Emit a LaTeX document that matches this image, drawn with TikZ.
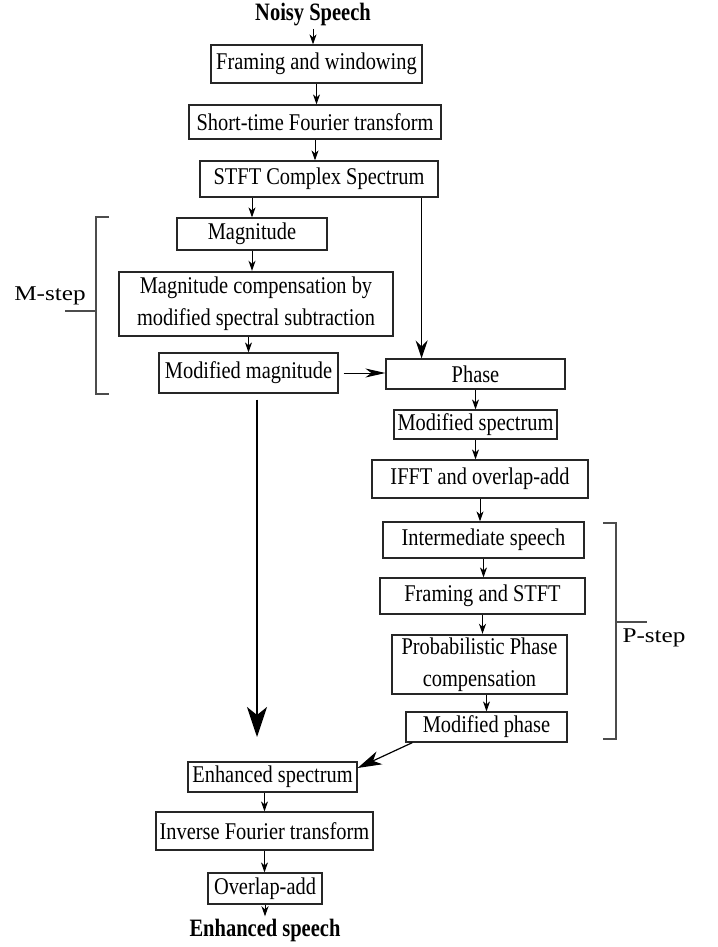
\documentclass[tikz,border=0pt]{standalone}
\usepackage{fontspec}
\setmainfont{Liberation Serif}
\newfontfamily\boxfont{Liberation Serif}[FakeStretch=0.85]
\newfontfamily\titlefont{Liberation Serif}[FakeStretch=0.82]
\newfontfamily\stepfont{Liberation Serif}[FakeStretch=1.2]
\usepackage{tikz}
\usetikzlibrary{calc}
\usetikzlibrary{arrows.meta}
\tikzset{>=Stealth}
\tikzstyle{blk} = [draw = black!85, rectangle, inner sep = 0, line width = 0.6pt, align = center, font = \boxfont\fontsize{12}{16}\selectfont]
\tikzstyle{thickblk} = [blk, line width = 1.2pt]
\tikzstyle{ttl} = [draw = none, inner sep = 1, font = \titlefont\bfseries\fontsize{12.5}{14}\selectfont]
\tikzstyle{steplbl} = [draw = none, inner sep = 0, font = \stepfont\fontsize{10.5}{12}\selectfont]
\tikzstyle{arr} = [-{Stealth[length = 5pt, width = 3.5pt, inset = 1.5pt]}, line width = 0.5pt]
\tikzstyle{brk} = [draw = black!70, line width = 0.6pt]
\tikzset{sz/.style 2 args = {minimum width = #1*0.5pt, minimum height = #2*0.5pt}}

\begin{document}
\begin{tikzpicture}[x = 0.5pt, y = -0.5pt]
\useasboundingbox (0, 0) rectangle (717, 947);
% upper chain
\node [ttl] (noisy) at (313, 15) {Noisy Speech};
\node [blk, sz = {211}{38}] (fw) at (316.5, 64) {Framing and windowing};
\node [blk, sz = {252}{34}] (stft) at (315, 122) {Short-time Fourier transform};
\node [blk, sz = {238}{36}] (cspec) at (319, 179) {STFT Complex Spectrum};
% M-step column
\node [blk, sz = {150}{32}] (mag) at (252, 234) {Magnitude};
\node [thickblk, sz = {274}{64}] (comp) at (256, 304) {Magnitude compensation by\\modified spectral subtraction};
\node [blk, sz = {179}{40}] (modmag) at (248.5, 373) {Modified magnitude};
% P-step column
\node [blk, sz = {179}{30}] (phase) at (475.5, 374) {Phase};
\node [blk, sz = {163}{29}] (modspec) at (475.5, 424.5) {Modified spectrum};
\node [blk, sz = {216}{38}] (ifft) at (480, 479) {IFFT and overlap-add};
\node [blk, sz = {201}{36}] (inter) at (483.5, 540) {Intermediate speech};
\node [blk, sz = {205}{36}] (fstft) at (482.5, 596) {Framing and STFT};
\node [thickblk, sz = {175}{59}] (prob) at (479.5, 664.5) {Probabilistic Phase\\compensation};
\node [blk, sz = {161}{30}] (modph) at (486.5, 727) {Modified phase};
% lower chain
\node [blk, sz = {169}{30}] (enh) at (272.5, 777) {Enhanced spectrum};
\node [blk, sz = {217}{38}] (ift) at (264.5, 831) {Inverse Fourier transform};
\node [blk, sz = {114}{31}] (ola) at (265, 888.5) {Overlap-add};
\node [ttl] (enhsp) at (265, 930) {Enhanced speech};
\coordinate (mend) at (257, 737);
% brackets
\node [steplbl] (mstep) at (50, 296) {M-step};
\draw [brk] (109, 217) -- (96, 217) -- (96, 394) -- (109, 394);
\draw [brk] (96, 311) -- (65, 311);
\node [steplbl] (pstep) at (654, 638) {P-step};
\draw [brk] (603, 523) -- (616, 523) -- (616, 739) -- (603, 739);
\draw [brk] (616, 622) -- (647, 622);
% small arrows
\draw [arr] (noisy.south) -- (noisy.south |- fw.north);
\draw [arr] (fw.south) -- (fw.south |- stft.north);
\draw [arr] (stft.south) -- (stft.south |- cspec.north);
\draw [arr] (mag.north |- cspec.south) -- (mag.north);
\draw [arr] (mag.south) -- (mag.south |- comp.north);
\draw [arr] (modmag.north |- comp.south) -- (modmag.north);
\draw [arr] (phase.south) -- (phase.south |- modspec.north);
\draw [arr] (modspec.south) -- (modspec.south |- ifft.north);
\draw [arr] (ifft.south) -- (ifft.south |- inter.north);
\draw [arr] (inter.south) -- (inter.south |- fstft.north);
\draw [arr] (fstft.south) -- (fstft.south |- prob.north);
\draw [arr] (modph.north |- prob.south) -- (modph.north);
\draw [arr] (ift.north |- enh.south) -- (ift.north);
\draw [arr] (ift.south) -- (ift.south |- ola.north);
\draw [arr] (ola.south) -- (ola.south |- enhsp.north);
% larger arrows
\draw [-{Stealth[length = 10pt, width = 4.5pt, inset = 3pt]}, line width = 0.5pt, shorten <= 2.5pt] (modmag.east) -- (modmag.east -| phase.west);
\draw [-{Stealth[length = 9pt, width = 6pt, inset = 3pt]}, line width = 0.6pt] ([xshift = -8.5pt]cspec.south east) -- ([xshift = -8.5pt]cspec.south east |- phase.north);
\draw [-{Stealth[length = 15pt, width = 10pt, inset = 4pt]}, line width = 1pt, shorten <= 3pt] (mend |- modmag.south) -- (mend);
\draw [-{Stealth[length = 12pt, width = 7pt, inset = 3.5pt]}, line width = 0.6pt] ([xshift = 3.5pt]modph.south west) -- ([yshift = 4.5pt]enh.east);
\end{tikzpicture}
\end{document}
